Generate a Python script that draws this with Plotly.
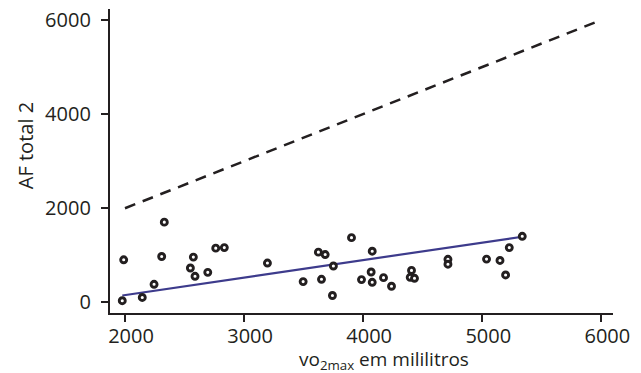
import plotly.graph_objects as go

# VO2max (ml) and total physical activity for each participant
vo2max_ml = [1977, 1989, 2145, 2244, 2308, 2330, 2549, 2574, 2588, 2695,
             2762, 2834, 3196, 3496, 3624, 3650, 3681, 3742, 3750, 3902,
             3986, 4067, 4076, 4076, 4171, 4238, 4395, 4406, 4431, 4712,
             4712, 5036, 5149, 5196, 5227, 5336]
af_total = [36, 905, 105, 385, 975, 1705, 731, 962, 554, 638,
            1152, 1164, 836, 442, 1067, 491, 1017, 147, 773, 1375,
            484, 646, 1088, 427, 526, 343, 533, 680, 512, 916,
            811, 920, 891, 583, 1164, 1404]

# fitted regression line over the observed range
fit_x = [1977, 5336]
fit_y = [147, 1395]

# identity reference line
ident_x = [2000, 6000]
ident_y = [2000, 6000]

tick_vals = [0, 2000, 4000, 6000]
x_tick_vals = [2000, 3000, 4000, 5000, 6000]

FONT = "Open Sans"
INK = "#231f20"

fig = go.Figure()
fig.add_trace(go.Scatter(
    x=ident_x, y=ident_y, mode="lines",
    line=dict(color=INK, width=2.5, dash="11px,8px"),
    hoverinfo="skip", showlegend=False))
fig.add_trace(go.Scatter(
    x=fit_x, y=fit_y, mode="lines",
    line=dict(color="#3d3b8c", width=2.2),
    hoverinfo="skip", showlegend=False))
fig.add_trace(go.Scatter(
    x=vo2max_ml, y=af_total, mode="markers",
    marker=dict(symbol="circle", size=6, color="white",
                line=dict(color=INK, width=2.9)),
    showlegend=False))

axis_common = dict(
    showgrid=False, zeroline=False, showline=True, linecolor=INK,
    linewidth=2.3, ticks="outside", ticklen=7, tickwidth=2.3,
    tickcolor=INK, tickfont=dict(family=FONT, size=20, color=INK),
)

fig.update_layout(
    width=641, height=373,
    margin=dict(l=110, r=28, t=6, b=60),
    plot_bgcolor="white", paper_bgcolor="white",
    xaxis=dict(range=[1874, 6098], tickvals=x_tick_vals,
               ticklabelstandoff=-3, ticklabelshift=6, **axis_common),
    yaxis=dict(range=[-225, 6232], tickvals=tick_vals,
               ticklabelstandoff=6, **axis_common),
    annotations=[
        dict(text="AF total 2", xref="paper", yref="paper",
             x=-0.169, y=0.552, textangle=-90, showarrow=False,
             xanchor="center", yanchor="middle",
             font=dict(family=FONT, size=20, color=INK)),
        dict(text="vo<sub>2max</sub> em mililitros", xref="paper", yref="paper",
             x=0.545, y=-0.153, showarrow=False,
             xanchor="center", yanchor="middle",
             font=dict(family=FONT, size=19, color=INK)),
    ],
)

fig.write_html("out.html")
